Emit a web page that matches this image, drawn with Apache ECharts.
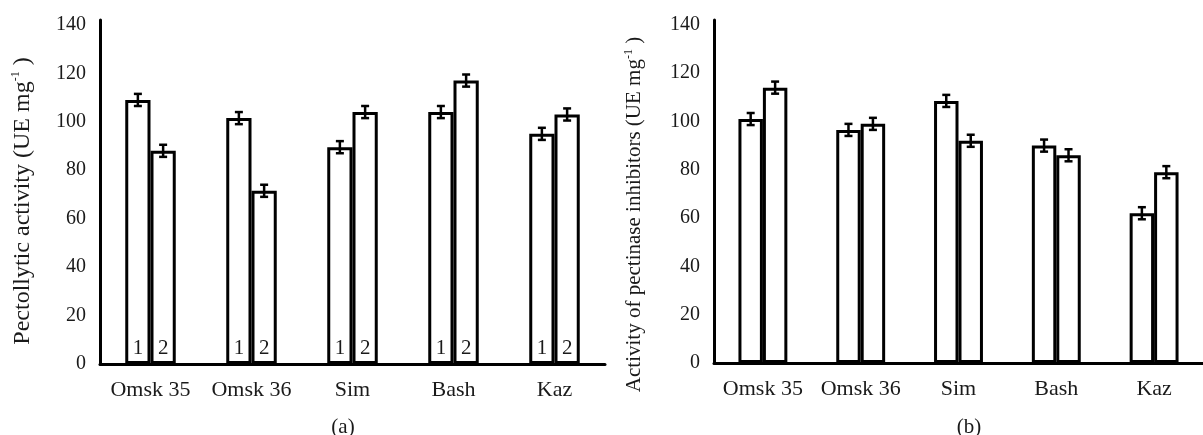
<!DOCTYPE html>
<html>
<head>
<meta charset="utf-8">
<script src="https://cdn.jsdelivr.net/npm/echarts@6/dist/echarts.min.js"></script>
<style>
  html, body { margin: 0; padding: 0; background: #fff; }
  #chart { width: 1203px; height: 435px; }
</style>
</head>
<body>
<div id="chart"></div>
<script>
const categories = ['Omsk 35', 'Omsk 36', 'Sim', 'Bash', 'Kaz']
const yTicks = [0, 20, 40, 60, 80, 100, 120, 140]

// (a) pectolytic activity, samples 1 and 2
const pectoS1 = [109, 101.5, 89.5, 104, 95]
const pectoS2 = [88, 71.5, 104, 117, 103]
const pectoErr = [2.5, 2.5, 2.5, 2.5, 2.5]

// (b) activity of pectinase inhibitors
const inhibS1 = [101, 96.5, 108.5, 90, 62]
const inhibS2 = [114, 99, 92, 86, 79]
const inhibErr = [2.5, 2.5, 2.5, 2.5, 2.5]

const FONT = '"Liberation Serif", "Times New Roman", serif'
const TXT = '#1a1a1a'

function errorBar(side) {
  return function(params, api) {
    const xi = api.value(0)
    const v = api.value(1)
    const e = api.value(2)
    const band = api.size([1, 0])[0]
    const top = api.coord([xi, v + e])
    const bot = api.coord([xi, v - e])
    const x = top[0] + side * band * 0.125
    const cap = 4
    const style = { stroke: '#000', lineWidth: 2.5 }
    return {
      type: 'group',
      children: [
        { type: 'line', shape: { x1: x, y1: top[1], x2: x, y2: bot[1] }, style },
        { type: 'line', shape: { x1: x - cap, y1: top[1], x2: x + cap, y2: top[1] }, style },
        { type: 'line', shape: { x1: x - cap, y1: bot[1], x2: x + cap, y2: bot[1] }, style }
      ]
    }
  }
}

function barSeries(data, idx, tag) {
  return {
    type: 'bar',
    xAxisIndex: idx,
    yAxisIndex: idx,
    data: data,
    barGap: 0,
    barCategoryGap: '50%',
    itemStyle: { color: '#fff', borderColor: '#000', borderWidth: 3 },
    label: tag ? {
      show: true,
      position: 'insideBottom',
      distance: 5,
      formatter: tag,
      fontFamily: FONT,
      fontSize: 21,
      color: TXT
    } : { show: false },
    animation: false
  }
}

function errSeries(vals, errs, idx, side) {
  return {
    type: 'custom',
    xAxisIndex: idx,
    yAxisIndex: idx,
    z: 5,
    renderItem: errorBar(side),
    data: vals.map((v, i) => [i, v, errs[i]]),
    animation: false
  }
}

function xAxisOpt(idx) {
  return {
    type: 'category',
    gridIndex: idx,
    data: categories,
    axisLine: { lineStyle: { color: '#000', width: 3 } },
    axisTick: { show: false },
    axisLabel: { interval: 0, hideOverlap: false, fontFamily: FONT, fontSize: 22, color: TXT, margin: 15 }
  }
}

function yAxisOpt(idx, name, size, gap, pad) {
  return {
    type: 'value',
    gridIndex: idx,
    min: yTicks[0],
    max: 142,
    interval: 20,
    name: name,
    nameLocation: 'middle',
    nameGap: gap,
    nameTextStyle: {
      fontFamily: FONT,
      fontSize: size,
      color: TXT,
      padding: pad,
      rich: {
        sup: { fontFamily: FONT, fontSize: 12, color: TXT, verticalAlign: 'top', lineHeight: size + 2 }
      }
    },
    axisLine: { show: true, lineStyle: { color: '#000', width: 3 } },
    axisTick: { show: false },
    splitLine: { show: false },
    axisLabel: { fontFamily: FONT, fontSize: 20, color: TXT, margin: 14, showMaxLabel: false }
  }
}

const chart = echarts.init(document.getElementById('chart'), null, { renderer: 'canvas' })
chart.setOption({
  backgroundColor: '#fff',
  grid: [
    { left: 100, top: 20, width: 505, bottom: 71 },
    { left: 714, top: 20, width: 505, bottom: 72 }
  ],
  xAxis: [xAxisOpt(0), xAxisOpt(1)],
  yAxis: [
    yAxisOpt(0, 'Pectollytic activity (UE mg{sup|-1} )', 24, 64, [0, 18, 0, 0]),
    yAxisOpt(1, 'Activity of pectinase inhibitors (UE mg{sup|-1} )', 21, 68, [0, 46, 0, 0])
  ],
  series: [
    barSeries(pectoS1, 0, '1'),
    barSeries(pectoS2, 0, '2'),
    errSeries(pectoS1, pectoErr, 0, -1),
    errSeries(pectoS2, pectoErr, 0, 1),
    barSeries(inhibS1, 1, null),
    barSeries(inhibS2, 1, null),
    errSeries(inhibS1, inhibErr, 1, -1),
    errSeries(inhibS2, inhibErr, 1, 1)
  ],
  graphic: [
    { type: 'text', x: 343, y: 427, style: { text: '(a)', fontFamily: FONT, fontSize: 21, fill: TXT, align: 'center', verticalAlign: 'middle' } },
    { type: 'text', x: 969, y: 427, style: { text: '(b)', fontFamily: FONT, fontSize: 21, fill: TXT, align: 'center', verticalAlign: 'middle' } }
  ]
})
</script>
</body>
</html>
